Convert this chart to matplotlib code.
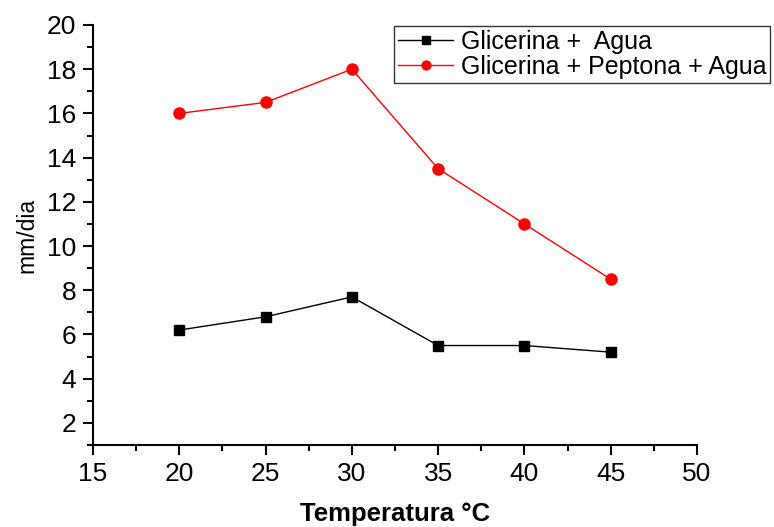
import matplotlib
matplotlib.use('Agg')
import matplotlib.pyplot as plt
from matplotlib.ticker import MultipleLocator

plt.rcParams['font.family'] = ['Liberation Sans', 'DejaVu Sans']

# datos
temperatura = [20, 25, 30, 35, 40, 45]
glicerina_agua = [6.2, 6.8, 7.7, 5.5, 5.5, 5.2]
glicerina_peptona_agua = [16.0, 16.5, 18.0, 13.5, 11.0, 8.5]

fig = plt.figure(figsize=(7.74, 5.27), dpi=100)
ax = fig.add_axes([93 / 774, 82 / 527, 604 / 774, 420 / 527])

ax.plot(temperatura, glicerina_agua, color='black', lw=1, marker='s', ms=7,
        label='Glicerina +  Agua')
ax.plot(temperatura, glicerina_peptona_agua, color='red', lw=1, marker='o', ms=8,
        label='Glicerina + Peptona + Agua')

ax.set_xlim(15, 50)
ax.set_ylim(1, 20)
ax.xaxis.set_major_locator(MultipleLocator(5))
ax.xaxis.set_minor_locator(MultipleLocator(2.5))
ax.yaxis.set_major_locator(MultipleLocator(2))
ax.yaxis.set_minor_locator(MultipleLocator(1))
ax.tick_params(which='major', direction='out', length=7, width=1.5,
               labelsize=19, pad=5)
ax.tick_params(which='minor', direction='out', length=4, width=1.5)
ax.spines['top'].set_visible(False)
ax.spines['right'].set_visible(False)
ax.spines['left'].set_linewidth(1.5)
ax.spines['bottom'].set_linewidth(1.5)

ax.set_xlabel('Temperatura °C', fontsize=18.5, fontweight='bold', labelpad=12)
ax.set_ylabel('mm/dia', fontsize=16.5, labelpad=6)

leg = ax.legend(loc='upper right', bbox_to_anchor=(770 / 774, 1 - 26 / 527),
                bbox_transform=fig.transFigure, fontsize=18, frameon=True,
                fancybox=False, edgecolor='black', borderpad=0.15,
                labelspacing=0.05, handlelength=2.2, handletextpad=0.3,
                borderaxespad=0, markerscale=0.8)
leg.get_frame().set_linewidth(1)

fig.savefig('out.png', dpi=100)
